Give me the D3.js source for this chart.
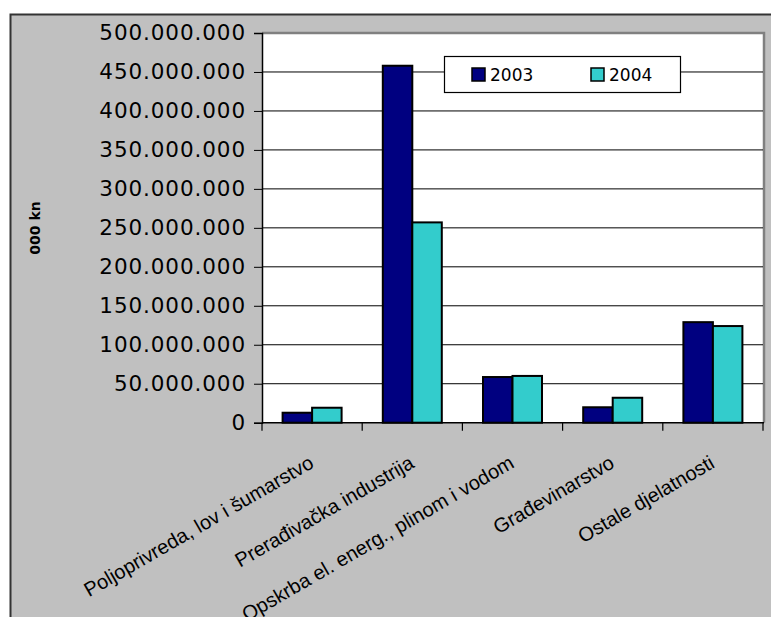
<!DOCTYPE html>
<html>
<head>
<meta charset="utf-8">
<script src="https://cdn.jsdelivr.net/npm/d3@7"></script>
<style>
  body { margin: 0; background: #fff; }
  svg { display: block; }
</style>
</head>
<body>
<script>
// data (000 kn)
var categories = ["Poljoprivreda, lov i šumarstvo", "Prerađivačka industrija",
  "Opskrba el. energ., plinom i vodom", "Građevinarstvo", "Ostale djelatnosti"];
var years = ["2003", "2004"];
var values2003 = [12800000, 458000000, 58600000, 19800000, 129000000];
var values2004 = [19200000, 257000000, 60000000, 32000000, 124000000];
var yTicks = [0, 50000000, 100000000, 150000000, 200000000, 250000000,
  300000000, 350000000, 400000000, 450000000, 500000000];
var colors = ["#000080", "#33cccc"];

var w = 771, h = 617;
var pLeft = 262, pRight = 763, pTop = 33, pBottom = 422.7;

var svg = d3.select("body").append("svg")
    .attr("width", w)
    .attr("height", h);

// chart area
svg.append("rect")
    .attr("x", 10.5).attr("y", 14.5)
    .attr("width", 800).attr("height", 700)
    .attr("fill", "#c0c0c0")
    .attr("stroke", "#333").attr("stroke-width", 2);

var x0 = d3.scaleBand().domain(categories).range([pLeft, pRight]);
var x1 = d3.scaleBand().domain(years).range([0, 59]);
var y = d3.scaleLinear().domain([0, 500000000]).range([pBottom, pTop]);

// plot area
svg.append("rect")
    .attr("x", pLeft).attr("y", pTop)
    .attr("width", pRight - pLeft).attr("height", pBottom - pTop)
    .attr("fill", "#fff");
svg.append("path")
    .attr("d", "M" + pLeft + "," + pTop + "H" + (pRight + 1) + "V" + pBottom)
    .attr("fill", "none")
    .attr("stroke", "#808080").attr("stroke-width", 2.5);

// gridlines
svg.selectAll(".grid")
    .data(yTicks.slice(1, -1))
    .enter().append("line")
    .attr("x1", pLeft).attr("x2", pRight)
    .attr("y1", function(d) { return y(d); })
    .attr("y2", function(d) { return y(d); })
    .attr("stroke", "#000").attr("stroke-width", 1);

// y axis
var fmt = function(d) { return d3.format(",")(d).replace(/,/g, "."); };
var yAxis = svg.append("g")
    .attr("transform", "translate(" + pLeft + ",0)")
    .call(d3.axisLeft(y).tickValues(yTicks).tickFormat(fmt).tickSize(8).tickPadding(8));
yAxis.select(".domain").attr("stroke", "#000").attr("stroke-width", 1.5);
yAxis.selectAll(".tick line").attr("stroke", "#000");
yAxis.selectAll("text")
    .attr("font-family", "DejaVu Sans")
    .attr("font-size", 21.5)
    .attr("letter-spacing", 0.9)
    .attr("fill", "#000");

// bars
var groups = svg.selectAll(".grp")
    .data(categories)
    .enter().append("g")
    .attr("transform", function(d) {
      return "translate(" + (x0(d) + (x0.bandwidth() - 59) / 2) + ",0)";
    });
groups.selectAll("rect")
    .data(function(d, i) { return [values2003[i], values2004[i]]; })
    .enter().append("rect")
    .attr("x", function(d, j) { return x1(years[j]); })
    .attr("y", function(d) { return y(d); })
    .attr("width", x1.bandwidth())
    .attr("height", function(d) { return pBottom - y(d); })
    .attr("fill", function(d, j) { return colors[j]; })
    .attr("stroke", "#000").attr("stroke-width", 2);

// x axis
var xAxis = svg.append("g")
    .attr("transform", "translate(0," + pBottom + ")");
xAxis.append("line")
    .attr("x1", pLeft).attr("x2", pRight + 1)
    .attr("stroke", "#000").attr("stroke-width", 1.5);
var bounds = categories.map(function(c) { return x0(c); }).concat([pRight]);
xAxis.selectAll(".xt")
    .data(bounds)
    .enter().append("line")
    .attr("x1", function(d) { return d; }).attr("x2", function(d) { return d; })
    .attr("y1", 0).attr("y2", 8)
    .attr("stroke", "#000").attr("stroke-width", 1.2);
xAxis.selectAll(".xl")
    .data(categories)
    .enter().append("text")
    .attr("transform", function(d) {
      return "translate(" + (x0(d) + x0.bandwidth() / 2 + 3) + ",44) rotate(-30)";
    })
    .attr("text-anchor", "end")
    .attr("font-family", "Liberation Sans")
    .attr("font-size", 20)
    .attr("fill", "#000")
    .text(function(d) { return d; });

// y title
svg.append("text")
    .attr("transform", "translate(40,228) rotate(-90)")
    .attr("text-anchor", "middle")
    .attr("font-family", "DejaVu Sans")
    .attr("font-weight", "bold")
    .attr("font-size", 14)
    .text("000 kn");

// legend
var legend = svg.append("g");
legend.append("rect")
    .attr("x", 444.5).attr("y", 56.5)
    .attr("width", 236).attr("height", 36)
    .attr("fill", "#fff").attr("stroke", "#000").attr("stroke-width", 1.2);
var items = legend.selectAll(".li")
    .data(years)
    .enter().append("g")
    .attr("transform", function(d, i) { return "translate(" + (472 + i * 119) + ",68)"; });
items.append("rect")
    .attr("width", 13).attr("height", 13)
    .attr("fill", function(d, i) { return colors[i]; })
    .attr("stroke", "#000").attr("stroke-width", 1.5);
items.append("text")
    .attr("x", 18).attr("y", 13)
    .attr("font-family", "DejaVu Sans")
    .attr("font-size", 17)
    .text(function(d) { return d; });
</script>
</body>
</html>
